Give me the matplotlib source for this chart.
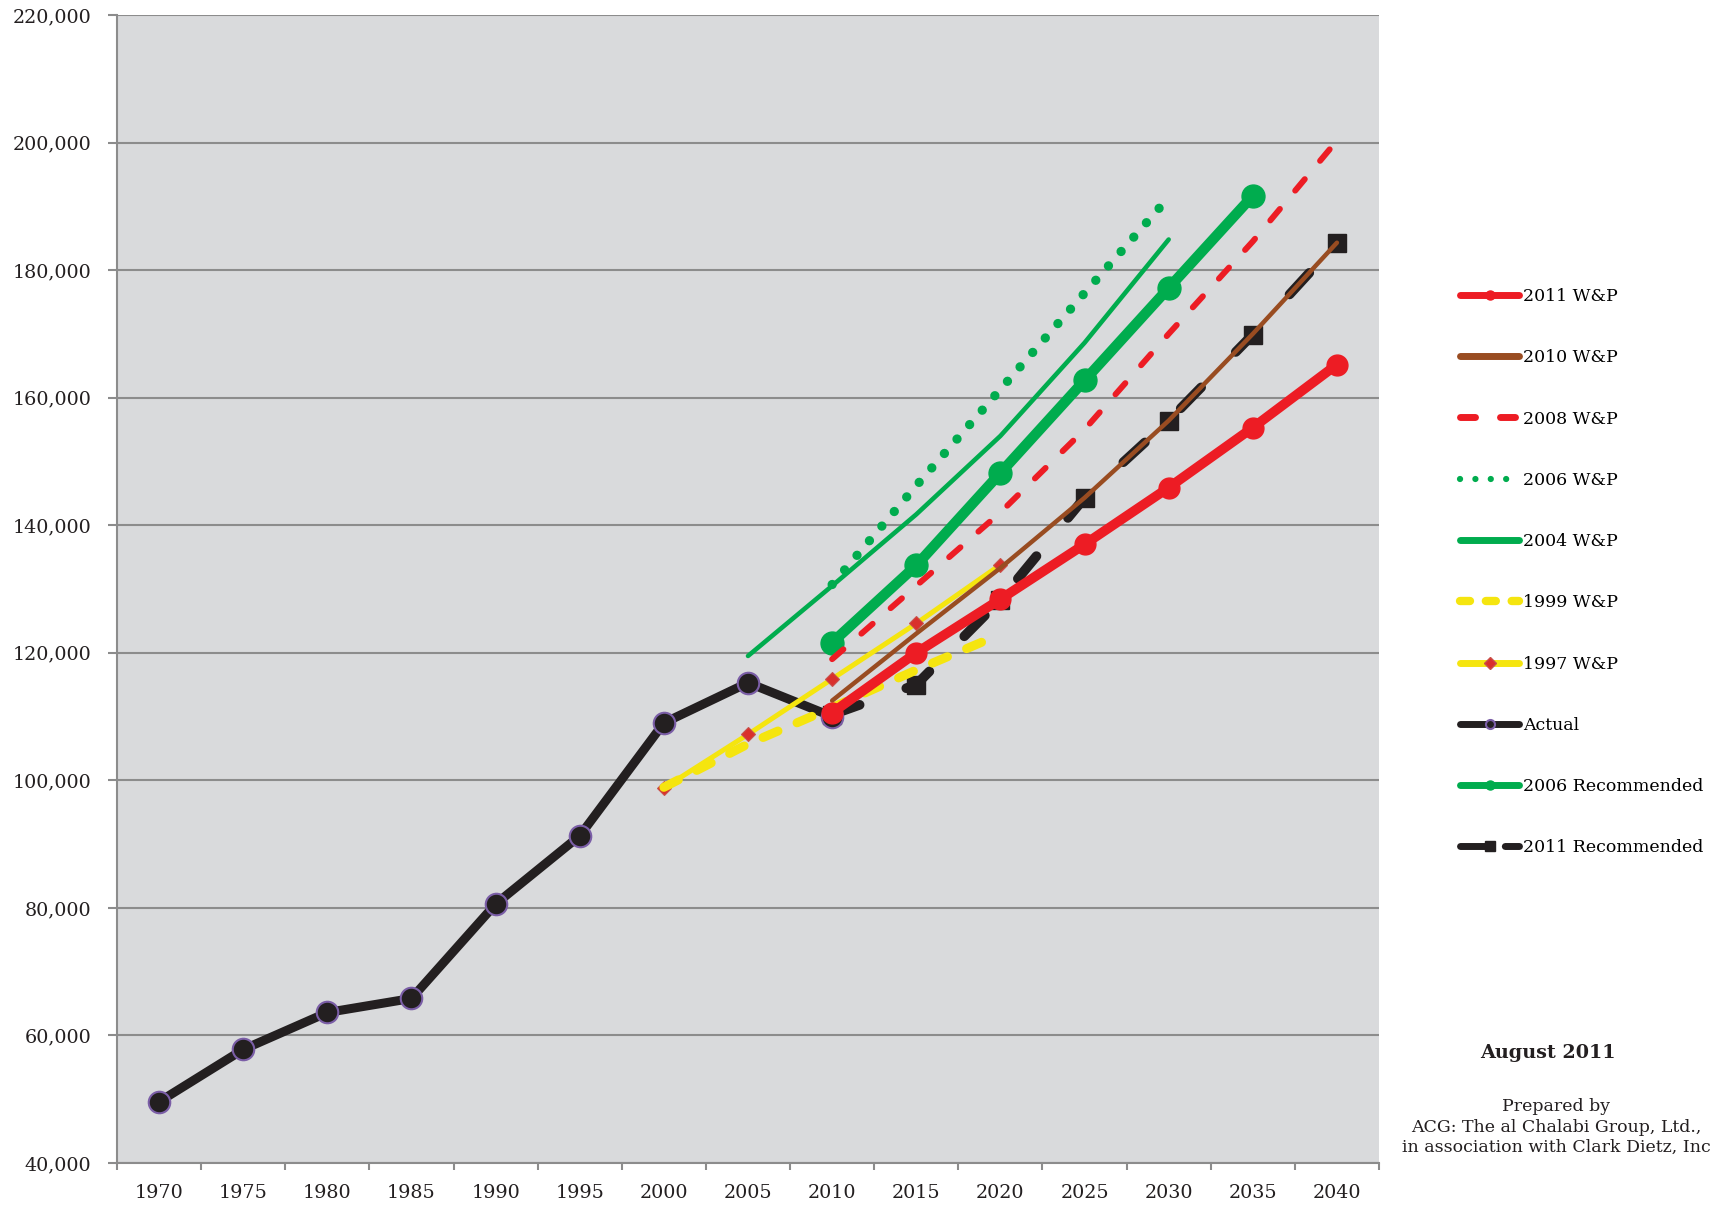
import numpy as np
import matplotlib
matplotlib.use('Agg')
import matplotlib.pyplot as plt
from matplotlib.lines import Line2D
from matplotlib.ticker import FuncFormatter, FixedLocator

plt.rcParams['font.family'] = ['DejaVu Serif']

# ---------------- data ----------------
years = [1970, 1975, 1980, 1985, 1990, 1995, 2000, 2005, 2010,
         2015, 2020, 2025, 2030, 2035, 2040]
year_labels = [str(y) for y in years]

actual_years = [1970, 1975, 1980, 1985, 1990, 1995, 2000, 2005, 2010]
actual = [49600, 57800, 63600, 65800, 80600, 91300, 109000, 115300, 110000]

rec2011_years = [2010, 2015, 2020, 2025, 2030, 2035, 2040]
rec2011 = [110300, 115000, 128300, 144300, 156400, 169900, 184300]

rec2006_years = [2010, 2015, 2020, 2025, 2030, 2035]
rec2006 = [121600, 133700, 148200, 162700, 177200, 191650]

wp1997_years = [2000, 2005, 2010, 2015, 2020]
wp1997 = [98800, 107200, 115900, 124600, 133800]

wp1999_years = [2000, 2005, 2010, 2015, 2020]
wp1999 = [98900, 105700, 111400, 117300, 122900]

wp2004_years = [2005, 2010, 2015, 2020, 2025, 2030]
wp2004 = [119500, 130500, 141700, 154000, 168600, 184800]

wp2006_years = [2010, 2015, 2020, 2025, 2030]
wp2006 = [130700, 146200, 161300, 176400, 191400]

wp2008_years = [2010, 2015, 2020, 2025, 2030, 2035, 2040]
wp2008 = [119000, 130500, 142000, 155000, 170000, 184500, 200300]

wp2010_years = [2010, 2015, 2020, 2025, 2030, 2035, 2040]
wp2010 = [112500, 123000, 133300, 144300, 156400, 170000, 184300]

wp2011_years = [2010, 2015, 2020, 2025, 2030, 2035, 2040]
wp2011 = [110600, 120000, 128400, 137000, 145900, 155300, 165200]

y_ticks = [40000, 60000, 80000, 100000, 120000, 140000, 160000, 180000, 200000, 220000]

legend_labels = ['2011 W&P', '2010 W&P', '2008 W&P', '2006 W&P', '2004 W&P',
                 '1999 W&P', '1997 W&P', 'Actual', '2006 Recommended', '2011 Recommended']

# ---------------- colours ----------------
RED = '#ed1c24'
BROWN = '#994c21'
GREEN = '#00ac4e'
YELLOW = '#f5e50f'
BLACK = '#231f20'
DIAM = '#d9302c'
PURPLE = '#7b5ea7'
BG = '#d9dadc'
GRID = '#8c8c8c'


def pos(yrs):
    return [years.index(y) for y in yrs]


fig = plt.figure(figsize=(17.2, 12.05), dpi=100)
W, H = 1720, 1205
L, R, T, B = 117, 1379, 15, 1163
ax = fig.add_axes([L / W, 1 - B / H, (R - L) / W, (B - T) / H])
ax.set_facecolor(BG)

common = dict(solid_capstyle='round', dash_capstyle='round', solid_joinstyle='round')

# bottom to top drawing order
ax.plot(pos(rec2011_years), rec2011, color=BLACK, lw=7, dashes=(3.0, 5.1),
        marker='s', ms=13, mfc=BLACK, mec=BLACK, zorder=3, **common)
ax.plot(pos(rec2006_years), rec2006, color=GREEN, lw=7.5,
        marker='o', ms=16.5, mfc=GREEN, mec=GREEN, zorder=4, **common)
ax.plot(pos(actual_years), actual, color=BLACK, lw=6.5,
        marker='o', ms=15.5, mfc=BLACK, mec=PURPLE, mew=1.5, zorder=5, **common)
ax.plot(pos(wp1997_years), wp1997, color=YELLOW, lw=3.6,
        marker='D', ms=7.5, mfc=DIAM, mec='#c9504a', mew=0.8, zorder=6, **common)
ax.plot(pos(wp1999_years), wp1999, color=YELLOW, lw=6.5, dashes=(1.8, 2.3),
        zorder=7, **common)
ax.plot(pos(wp2004_years), wp2004, color=GREEN, lw=3.3, zorder=8, **common)
ax.plot(pos(wp2006_years), wp2006, color=GREEN, lw=6.7, dashes=(0.01, 2.05),
        zorder=9, **common)
ax.plot(pos(wp2008_years), wp2008, color=RED, lw=4.3, dashes=(2.5, 4.0),
        zorder=10, **common)
ax.plot(pos(wp2010_years), wp2010, color=BROWN, lw=3.2, zorder=11, **common)
ax.plot(pos(wp2011_years), wp2011, color=RED, lw=7,
        marker='o', ms=15, mfc=RED, mec=RED, zorder=12, **common)

# axes styling
ax.set_xlim(-0.5, len(years) - 0.5)
ax.set_ylim(40000, 220000)
ax.xaxis.set_major_locator(FixedLocator(list(range(len(years)))))
ax.set_xticklabels(year_labels)
ax.xaxis.set_minor_locator(FixedLocator([i - 0.5 for i in range(len(years) + 1)]))
ax.tick_params(axis='x', which='major', length=0, pad=15, labelsize=13.8, labelcolor=BLACK)
ax.tick_params(axis='x', which='minor', length=5, width=1.5, color=GRID)
ax.set_yticks(y_ticks)
ax.yaxis.set_major_formatter(FuncFormatter(lambda v, p: f'{int(v):,}'))
ax.tick_params(axis='y', length=6.5, width=1.5, color=GRID, pad=12,
               labelsize=13.8, labelcolor=BLACK)
ax.yaxis.grid(True, color=GRID, lw=1.5)
ax.set_axisbelow(True)
for s in ['top', 'right']:
    ax.spines[s].set_visible(False)
for s in ['left', 'bottom']:
    ax.spines[s].set_color(GRID)
    ax.spines[s].set_linewidth(1.5)

# legend proxies
handles = [
    Line2D([], [], color=RED, lw=5, marker='o', ms=6.5, mfc=RED, mec=RED, **common),
    Line2D([], [], color=BROWN, lw=5, **common),
    Line2D([], [], color=RED, lw=5, dashes=(2.16, 3.6), **common),
    Line2D([], [], color=GREEN, lw=4.5, dashes=(0.01, 2.45), **common),
    Line2D([], [], color=GREEN, lw=5, **common),
    Line2D([], [], color=YELLOW, lw=6, dashes=(1.2, 1.9), **common),
    Line2D([], [], color=YELLOW, lw=5, marker='D', ms=6.5, mfc=DIAM, mec='#c9504a', **common),
    Line2D([], [], color=BLACK, lw=5, marker='o', ms=6.5, mfc=BLACK, mec=PURPLE, mew=1.5, **common),
    Line2D([], [], color=GREEN, lw=5, marker='o', ms=6.5, mfc=GREEN, mec=GREEN, **common),
    Line2D([], [], color=BLACK, lw=5, dashes=(4.0, 2.45), marker='s', ms=6.5,
           mfc=BLACK, mec=BLACK, **common),
]
fig.legend(handles, legend_labels, loc='upper left',
           bbox_to_anchor=(1460 / W, 1 - 288 / H), frameon=False,
           prop={'family': 'DejaVu Serif', 'size': 12.5},
           handlelength=3.4, handletextpad=0.25, labelspacing=2.55,
           borderpad=0, borderaxespad=0)

# annotations
fig.text(1548 / W, 1 - 1058 / H, 'August 2011', ha='center', va='baseline',
         fontsize=13.8, fontweight='bold', color=BLACK)
for txt, yb in [('Prepared by', 1111),
                ('ACG: The al Chalabi Group, Ltd.,', 1132),
                ('in association with Clark Dietz, Inc', 1152)]:
    fig.text(1556 / W, 1 - yb / H, txt, ha='center', va='baseline',
             fontsize=12.5, color=BLACK)

fig.savefig('out.png', dpi=100, facecolor='white')
